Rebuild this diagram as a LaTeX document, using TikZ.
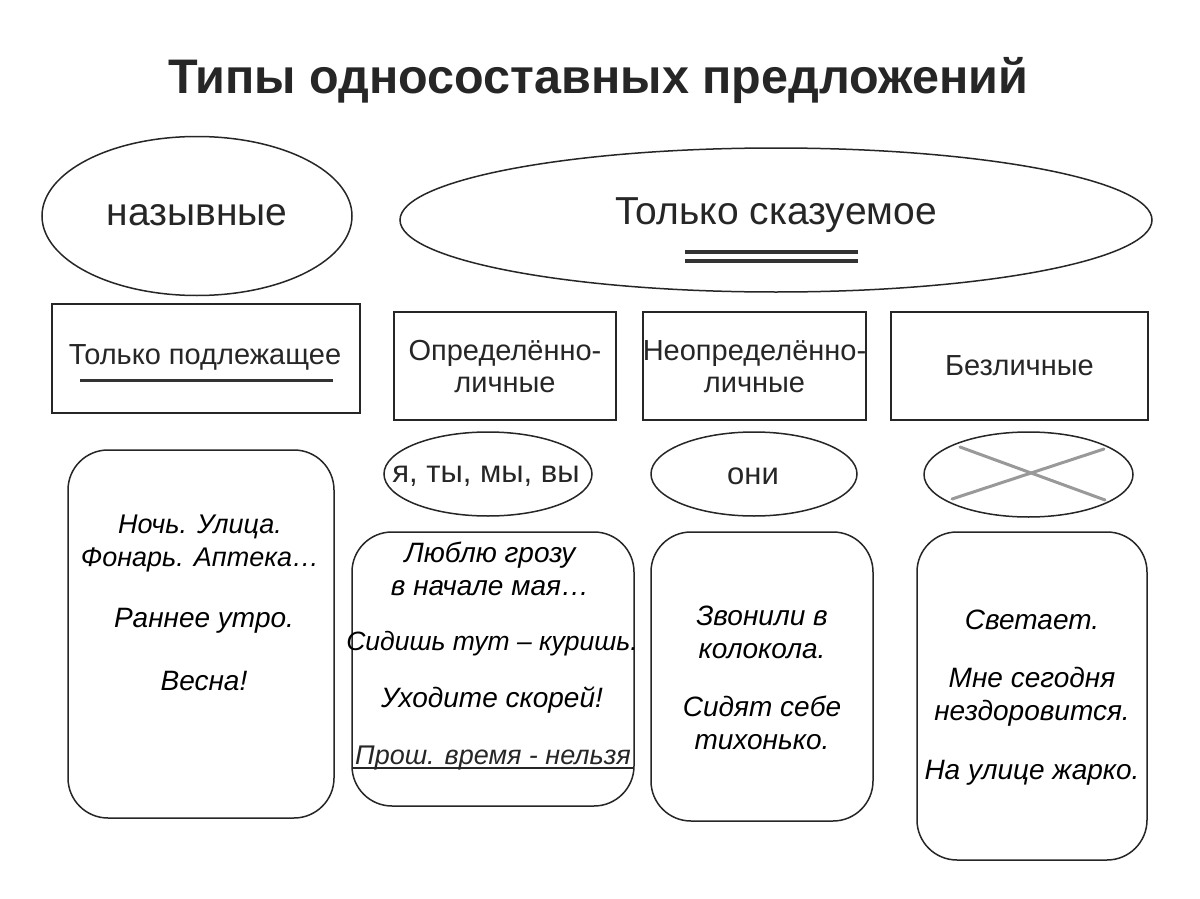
\documentclass[tikz,border=0pt]{standalone}
\usepackage{fontspec}
\setmainfont{Liberation Sans}
\usetikzlibrary{shapes.geometric}
\begin{document}
\begin{tikzpicture}[x=1pt,y=-1pt,
  shp/.style={draw=black!85,line width=1.5pt,inner sep=0pt},
  oval/.style={shp,ellipse},
  box/.style={shp,rectangle},
  rbox/.style={shp,rectangle,rounded corners=40pt},
  head/.style={font=\fontsize{29}{32}\selectfont,align=center,inner sep=0pt,text=black!85},
  ex/.style={font=\fontsize{28}{33}\selectfont\itshape,align=center,inner sep=0pt,text=black},
  uline/.style={line width=3pt,black!80},
  cross/.style={line width=3pt,black!40,line cap=round}]
\useasboundingbox[fill=white] (0,0) rectangle (1200,899);
\node[font=\fontsize{48.5}{52}\selectfont\bfseries,inner sep=0pt,text=black!85] (title) at (598,80) {Типы односоставных предложений};
% top ellipses
\node[oval,minimum width=310pt,minimum height=159pt] (naz) at (197,216) {};
\node[head,font=\fontsize{39}{42}\selectfont] (nazt) at (197,215) {назывные};
\node[oval,minimum width=752pt,minimum height=144pt] (sk) at (776,220) {};
\node[head,font=\fontsize{39}{42}\selectfont] (skt) at (776,215) {Только сказуемое};
\coordinate (d1a) at (685,252); \coordinate (d1b) at (858,252);
\coordinate (d2a) at (685,261); \coordinate (d2b) at (858,261);
\draw[uline,line width=4pt] (d1a) -- (d1b);
\draw[uline,line width=4pt] (d2a) -- (d2b);
% rectangles
\node[box,minimum width=308pt,minimum height=109pt] (podl) at (206,358.5) {};
\node[head] (podlt) at (205,357) {Только подлежащее};
\coordinate (u1a) at (80,380); \coordinate (u1b) at (333,380);
\draw[uline] (u1a) -- (u1b);
\node[box,minimum width=222pt,minimum height=108pt] (opr) at (505,366) {};
\node[head] (oprt) at (505,367) {Определённо-\\личные};
\node[box,minimum width=223pt,minimum height=108pt] (neo) at (754.5,366) {};
\node[head] (neot) at (754.5,367) {Неопределённо-\\личные};
\node[box,minimum width=257pt,minimum height=108pt] (bez) at (1019.5,366) {};
\node[head] (bezt) at (1019.5,366) {Безличные};
% small ellipses
\node[oval,minimum width=208pt,minimum height=84pt] (e1) at (488,474) {};
\node[head,font=\fontsize{31}{34}\selectfont] (e1t) at (486,476) {я, ты, мы, вы};
\node[oval,minimum width=206pt,minimum height=84pt] (e2) at (754,474) {};
\node[head,font=\fontsize{31}{34}\selectfont] (e2t) at (753,476) {они};
\node[oval,minimum width=209pt,minimum height=85pt] (e3) at (1028.5,474.5) {};
\coordinate (x1a) at (960,447); \coordinate (x1b) at (1105,500);
\coordinate (x2a) at (952,499); \coordinate (x2b) at (1104,449);
\draw[cross] (x1a) -- (x1b);
\draw[cross] (x2a) -- (x2b);
% example boxes
\node[rbox,minimum width=266pt,minimum height=368pt] (b1) at (201,634) {};
\node[ex,font=\fontsize{27}{33}\selectfont\itshape] (b1a) at (200,543.5) {Ночь. Улица.\\Фонарь. Аптека…};
\node[ex] (b1b) at (204,621) {Раннее утро.};
\node[ex] (b1c) at (204,681) {Весна!};
\node[rbox,minimum width=282pt,minimum height=274pt] (b2) at (493,669) {};
\node[ex] (b2a) at (490,569) {Люблю грозу\\в начале мая…};
\node[ex,font=\fontsize{26.5}{33}\selectfont\itshape] (b2b) at (492,644) {Сидишь тут – куришь.};
\node[ex] (b2c) at (492,700) {Уходите скорей!};
\node[ex,font=\fontsize{27}{33}\selectfont\itshape,text=black!85] (b2d) at (493,758) {Прош. время - нельзя};
\coordinate (u2a) at (353,768); \coordinate (u2b) at (633,768);
\draw[black!85,line width=2pt] (u2a) -- (u2b);
\node[rbox,minimum width=222pt,minimum height=289pt] (b3) at (762,676.5) {};
\node[ex] (b3a) at (762,632) {Звонили в\\колокола.};
\node[ex] (b3b) at (762,723) {Сидят себе\\тихонько.};
\node[rbox,minimum width=230pt,minimum height=328pt] (b4) at (1032,696) {};
\node[ex] (b4a) at (1032,620) {Светает.};
\node[ex] (b4b) at (1032,697) {Мне сегодня\\нездоровится.};
\node[ex] (b4c) at (1032,773) {На улице жарко.};
\end{tikzpicture}
\end{document}
